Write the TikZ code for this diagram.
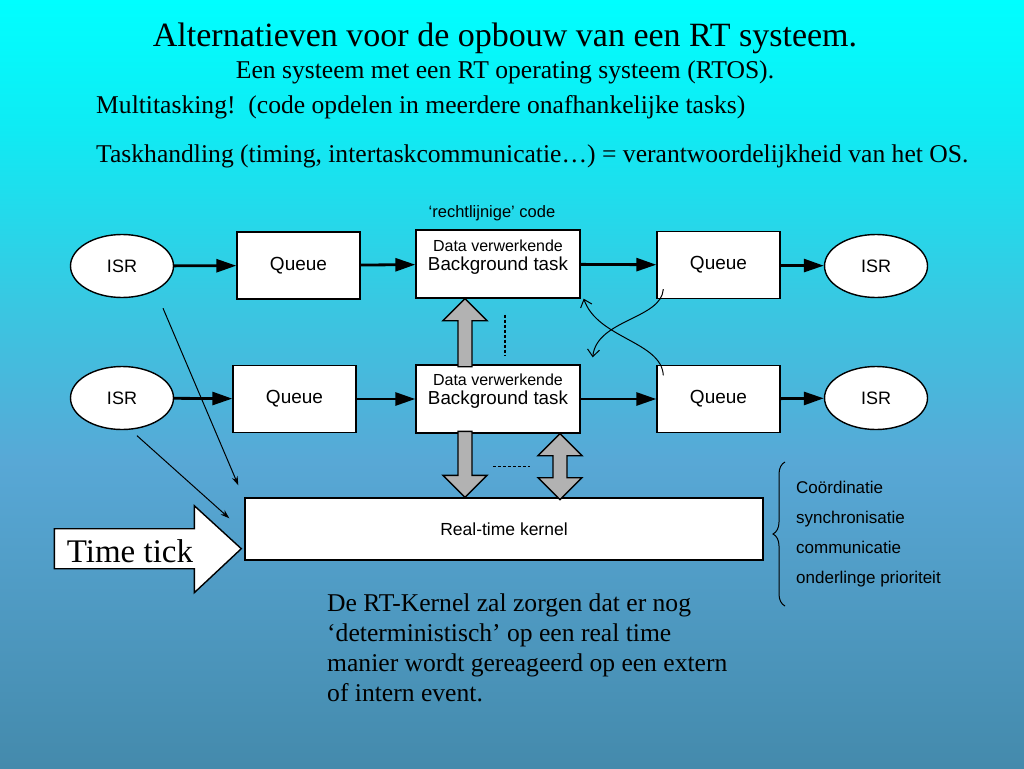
\documentclass[tikz,border=0pt]{standalone}
\usepackage{fontspec}
\setmainfont{Liberation Serif}
\newfontfamily\arial{Liberation Sans}
\usetikzlibrary{arrows.meta,calc,shapes.geometric,decorations.pathreplacing}
\definecolor{bgA}{RGB}{0,255,255}
\definecolor{bgB}{RGB}{14,236,244}
\definecolor{bgC}{RGB}{56,200,226}
\definecolor{bgD}{RGB}{88,168,214}
\definecolor{bgE}{RGB}{68,138,172}
\definecolor{fatgray}{RGB}{178,178,178}
\pgfdeclareverticalshading{bgfade}{100bp}{color(0bp)=(bgE); color(25bp)=(bgE); color(45bp)=(bgD); color(55.5bp)=(bgC); color(67bp)=(bgB); color(75bp)=(bgA); color(100bp)=(bgA)}
\begin{document}
\begin{tikzpicture}[x=1pt,y=-1pt,
	isr/.style={ellipse,draw,line width=1.4pt,fill=white,minimum width=103pt,minimum height=63pt,inner sep=0pt,font=\arial\fontsize{18}{20}\selectfont},
	queue/.style={rectangle,draw,line width=1.4pt,fill=white,minimum width=123pt,minimum height=67pt,inner sep=0pt,font=\arial\fontsize{19}{20}\selectfont},
	task/.style={queue,minimum width=164pt,minimum height=68pt},
	kernel/.style={queue,minimum width=518pt,minimum height=62pt,font=\arial\fontsize{17.5}{20}\selectfont},
	tasktext/.style={align=center,inner sep=0pt,font=\arial\fontsize{18.8}{19}\selectfont},
	note/.style={inner sep=0pt,font=\arial\fontsize{17}{30}\selectfont},
	serif/.style={inner sep=0pt,font=\fontsize{25.6}{30}\selectfont},
	flow/.style={line width=2.8pt,-{Triangle[length=20pt,width=13pt]}},
	hint/.style={line width=1pt,-{Stealth[length=9pt,width=6pt]}},
	swap/.style={line width=1pt,-{Straight Barb[length=7pt,width=12pt]}},
	fat/.style={draw,line width=1.4pt,fill=fatgray,line join=miter},
	spacer/.style={line width=1.4pt,dash pattern=on 3pt off 2pt}]
	\shade[shading=bgfade] (0,0) rectangle (1024,768);
	\useasboundingbox (0,0) rectangle (1024,768);
	\node[serif,anchor=base,font=\fontsize{34}{36}\selectfont] (title) at (505,47) {Alternatieven voor de opbouw van een RT systeem.};
	\node[serif,anchor=base] (sub) at (505,78) {Een systeem met een RT operating systeem (RTOS).};
	\node[serif,anchor=base west] (multi) at (96,113) {Multitasking!\ \ (code opdelen in meerdere onafhankelijke tasks)};
	\node[serif,anchor=base west] (handling) at (96,162) {Taskhandling (timing, intertaskcommunicatie\dots) = verantwoordelijkheid van het OS.};
	\node[note,anchor=base,font=\arial\fontsize{16.5}{18}\selectfont] (straight) at (492,217) {‘rechtlijnige’ code};
	\node[isr] (isr1) at (122,266) {ISR};
	\node[queue] (q1) at (298.5,265.5) {Queue};
	\node[task] (t1) at (498,264) {};
	\node[tasktext] at ($(t1)+(0,-6.5)$) {{\fontsize{16}{19}\selectfont Data verwerkende}\\Background task};
	\node[queue] (q2) at (718.5,265) {Queue};
	\node[isr] (isr2) at (876,266) {ISR};
	\node[isr] (isr3) at (122,398) {ISR};
	\node[queue] (q3) at (294.5,399) {Queue};
	\node[task] (t2) at (498,399) {};
	\node[tasktext] at ($(t2)+(0,-8)$) {{\fontsize{16}{19}\selectfont Data verwerkende}\\Background task};
	\node[queue] (q4) at (718.5,399) {Queue};
	\node[isr] (isr4) at (876,398) {ISR};
	\node[kernel] (rtk) at (504,529) {Real-time kernel};
	\draw[flow] (isr1) -- (q1);
	\draw[flow] (q1) -- (t1);
	\draw[flow] (t1) -- (q2);
	\draw[flow] (q2) -- (isr2);
	\draw[flow] (isr3) -- (q3);
	\draw[flow] (q3) -- (t2);
	\draw[flow] (t2) -- (q4);
	\draw[flow] (q4) -- (isr4);
	\draw[fat] ($(t1.south)+(-33,0)$) -- ++(22,22) -- ++(-15,0) -- ++(0,46) -- ++(-14,0) -- ++(0,-46) -- ++(-15,0) -- cycle;
	\draw[fat] ($(rtk.north)+(-39,0)$) -- ++(-22,-22) -- ++(15,0) -- ++(0,-44) -- ++(14,0) -- ++(0,44) -- ++(15,0) -- cycle;
	\draw[fat] ($(t2.south)+(62,0)$) -- ++(22,22) -- ++(-15,0) -- ++(0,22) -- ++(15,0) -- ++(-22,22) -- ++(-22,-22) -- ++(15,0) -- ++(0,-22) -- ++(-15,0) -- cycle;
	\draw[spacer] ($(t1.south)+(7,16)$) -- ++(0,41);
	\draw[spacer] ($(t2.south)+(-5,33)$) -- ++(37,0);
	\draw[swap] ($(q2.south west)+(7,-10)$) .. controls +(-2,30) and +(4,-38) .. ($(t2.north east)+(12,-7)$);
	\draw[swap] ($(q4.north west)+(7,10.5)$) .. controls +(-2,-34) and +(14,40) .. ($(t1.south east)+(3,0)$);
	\draw[hint] ($(isr1.south)+(41,10)$) -- ($(rtk.north west)+(-6,-12)$);
	\draw[hint] ($(isr3.south)+(15,5.5)$) -- ($(rtk.north west)+(-15,21)$);
	\draw[line width=1.4pt,fill=white,line join=miter] ($(rtk.south west)+(-3,-12)$) -- ++(-47,-43) -- ++(0,23) -- ++(-140,0) -- ++(0,40) -- ++(140,0) -- ++(0,24) -- cycle;
	\node[serif,font=\fontsize{33}{36}\selectfont] (tick) at (130,551) {Time tick};
	\draw[line width=1pt,decorate,decoration={brace,amplitude=12pt}] (785,606) -- (785,462);
	\node[note,anchor=north west,align=left] (roles) at (796,480.5) {Coördinatie\\synchronisatie\\communicatie\\onderlinge prioriteit};
	\node[serif,anchor=north west,align=left] (remark) at (327,593.5) {De RT-Kernel zal zorgen dat er nog\\‘deterministisch’ op een real time\\manier wordt gereageerd op een extern\\of intern event.};
\end{tikzpicture}
\end{document}
